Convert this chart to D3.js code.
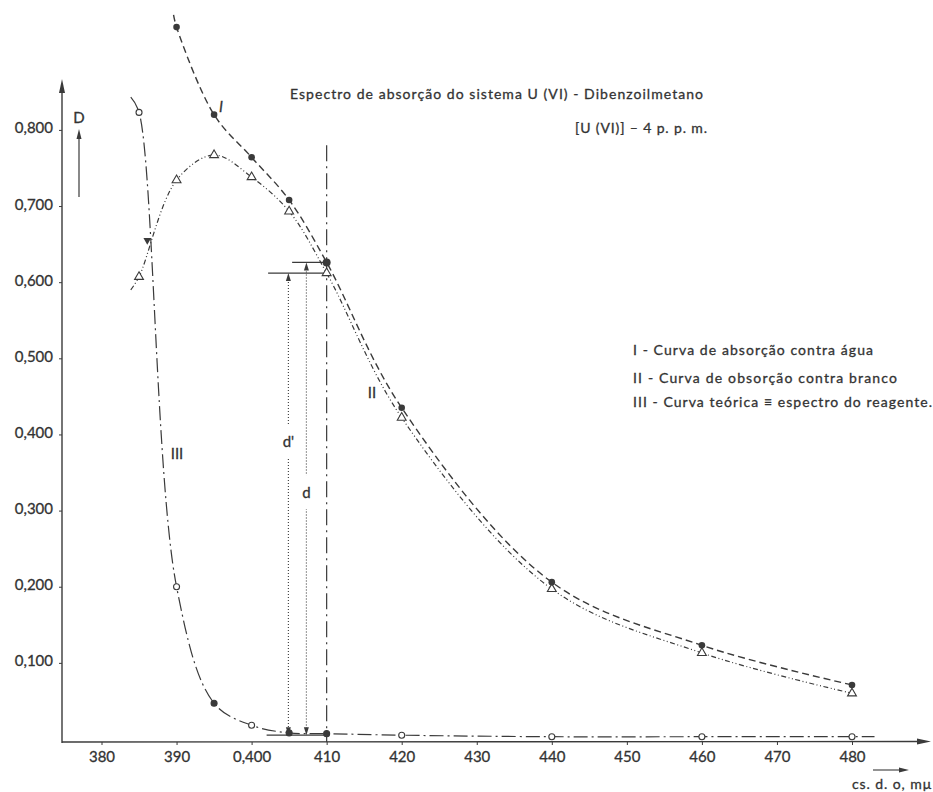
<!DOCTYPE html>
<html>
<head>
<meta charset="utf-8">
<script src="https://cdn.jsdelivr.net/npm/d3@7"></script>
<style>
  html, body { margin: 0; padding: 0; background: #ffffff; }
  svg { display: block; }
  text { font-family: Lato, "Noto Sans", sans-serif; fill: #333333; stroke: #333333; stroke-width: 0.3px; }
</style>
</head>
<body>
<svg id="chart" width="933" height="792"></svg>
<script>
// ---- Data: absorbance D versus wavelength (mµ) ----
// I - absorption against water
const curveIWavelengths = [390, 395, 400, 405, 410, 420, 440, 460, 480];
const curveIValues      = [0.935, 0.820, 0.764, 0.708, 0.626, 0.435, 0.206, 0.123, 0.071];
// II - absorption against the blank
const curveIIWavelengths = [385, 390, 395, 400, 405, 410, 420, 440, 460, 480];
const curveIIValues      = [0.607, 0.734, 0.767, 0.738, 0.693, 0.612, 0.422, 0.197, 0.113, 0.060];
// III - theoretical curve = reagent spectrum
const curveIIIWavelengths = [385, 390, 395, 400, 405, 410, 420, 440, 460, 480];
const curveIIIValues      = [0.823, 0.200, 0.047, 0.018, 0.008, 0.007, 0.005, 0.003, 0.003, 0.003];
const curveIIIFilled      = [395, 405, 410];

// where each hand-drawn curve begins / ends beyond its measured points
const curveILeadIn   = [389.6, 0.951];
const curveIILeadIn  = [383.9, 0.590];
const curveIIILeadIn = [383.9, 0.843];
const curveIIITail   = [483.0, 0.003];

// intersection of curves II and III
const crossingII_III = [386.1, 0.655];

// construction at the maximum: d and d'
const lambdaMax      = 410;
const lambdaMaxTop   = 0.78;
const dPrimeLambda   = 404.9;   // d'  : curve II level
const dLambda        = 407.3;   // d   : curve I level
const levelStartII   = 402.2;
const levelStartI    = 405.4;
const baseLevel      = 0.005;
const baseStart      = 402.0;

// axis ticks
const xTickValues = [380, 390, 400, 410, 420, 430, 440, 450, 460, 470, 480];
const xTickLabels = ["380", "390", "0,400", "410", "420", "430", "440", "450", "460", "470", "480"];
const yTickValues = [0.1, 0.2, 0.3, 0.4, 0.5, 0.6, 0.7, 0.8];
const yTickLabels = ["0,100", "0,200", "0,300", "0,400", "0,500", "0,600", "0,700", "0,800"];

// ---- Drawing ----
const ink = "#3a3a3a";
const svg = d3.select("#chart");
const x = d3.scaleLinear().domain([380, 480]).range([101.5, 852]);
const y = d3.scaleLinear().domain([0, 0.8]).range([739, 129.9]);
const font = 'Lato, "Noto Sans", sans-serif';

// axes
const axisX = d3.axisBottom(x)
  .tickValues(xTickValues)
  .tickFormat((d, i) => xTickLabels[i])
  .tickSize(3).tickPadding(6);
svg.append("g").attr("transform", "translate(0,742)").call(axisX)
  .call(g => g.select(".domain").remove())
  .call(g => g.selectAll("line").attr("stroke", ink))
  .call(g => g.selectAll("text").attr("font-size", 15).attr("font-family", font).attr("fill", "#333"));

const axisY = d3.axisLeft(y)
  .tickValues(yTickValues)
  .tickFormat((d, i) => yTickLabels[i])
  .tickSize(3).tickPadding(6);
svg.append("g").attr("transform", "translate(62,0)").call(axisY)
  .call(g => g.select(".domain").remove())
  .call(g => g.selectAll("line").attr("stroke", ink))
  .call(g => g.selectAll("text").attr("font-size", 15).attr("font-family", font).attr("fill", "#333").attr("dy", "0.2em"));

// axis lines with arrows
svg.append("line").attr("x1", 62).attr("y1", 742).attr("x2", 922).attr("y2", 741.5)
  .attr("stroke", ink).attr("stroke-width", 1.4);
svg.append("path").attr("d", "M931,741.5 L917,738.5 L917,744.5 Z").attr("fill", ink);
svg.append("line").attr("x1", 62).attr("y1", 743).attr("x2", 62).attr("y2", 88)
  .attr("stroke", ink).attr("stroke-width", 1.4);
svg.append("path").attr("d", "M62,79 L59,93 L65,93 Z").attr("fill", ink);

// D label with arrow
svg.append("text").attr("x", 79).attr("y", 123).attr("text-anchor", "middle")
  .attr("font-size", 15).text("D");
svg.append("line").attr("x1", 79).attr("y1", 197).attr("x2", 79).attr("y2", 136)
  .attr("stroke", ink).attr("stroke-width", 1.2);
svg.append("path").attr("d", "M79,129 L76.5,139 L81.5,139 Z").attr("fill", ink);

// x-axis unit label with arrow
svg.append("line").attr("x1", 873).attr("y1", 770).attr("x2", 902).attr("y2", 770)
  .attr("stroke", ink).attr("stroke-width", 1.1);
svg.append("path").attr("d", "M909,770 L899,767.5 L899,772.5 Z").attr("fill", ink);
svg.append("text").attr("x", 852).attr("y", 789).attr("font-size", 14)
  .attr("textLength", 79).attr("lengthAdjust", "spacing").text("cs. d. o, mμ");

// titles
svg.append("text").attr("x", 290).attr("y", 99).attr("font-size", 14)
  .attr("textLength", 413).attr("lengthAdjust", "spacing")
  .text("Espectro de absorção do sistema U (VI) - Dibenzoilmetano");
svg.append("text").attr("x", 575).attr("y", 133).attr("font-size", 14)
  .attr("textLength", 132).attr("lengthAdjust", "spacing")
  .text("[U (VI)] – 4 p. p. m.");

// legend
const legendLines = [
  { text: "I - Curva de absorção contra água", y: 355, w: 240 },
  { text: "II - Curva de obsorção contra branco", y: 383, w: 264 },
  { text: "III - Curva teórica ≡ espectro do reagente.", y: 407, w: 299 }
];
svg.append("g").selectAll("text").data(legendLines).join("text")
  .attr("x", 633).attr("y", d => d.y).attr("font-size", 14)
  .attr("textLength", d => d.w).attr("lengthAdjust", "spacing")
  .text(d => d.text);

// curves
const line = d3.line().x(d => x(d[0])).y(d => y(d[1])).curve(d3.curveCatmullRom.alpha(0.5));
const ptsI   = [curveILeadIn].concat(d3.zip(curveIWavelengths, curveIValues));
const ptsII  = [curveIILeadIn].concat(d3.zip(curveIIWavelengths, curveIIValues));
const ptsIII = [curveIIILeadIn].concat(d3.zip(curveIIIWavelengths, curveIIIValues), [curveIIITail]);

svg.append("path").attr("d", line(ptsIII)).attr("fill", "none")
  .attr("stroke", ink).attr("stroke-width", 1.2).attr("stroke-dasharray", "14,4,2,4");
svg.append("path").attr("d", line(ptsII)).attr("fill", "none")
  .attr("stroke", ink).attr("stroke-width", 1.2).attr("stroke-dasharray", "5,2.5,1,2.5,1,2.5");
svg.append("path").attr("d", line(ptsI)).attr("fill", "none")
  .attr("stroke", ink).attr("stroke-width", 1.4).attr("stroke-dasharray", "7,4");

// vertical dash-dot line at the maximum
svg.append("line").attr("x1", x(lambdaMax)).attr("x2", x(lambdaMax))
  .attr("y1", y(lambdaMaxTop)).attr("y2", y(0) + 3)
  .attr("stroke", ink).attr("stroke-width", 1.2).attr("stroke-dasharray", "16,5,2,5");

// horizontal reference levels
const levelI  = curveIValues[curveIWavelengths.indexOf(lambdaMax)];
const levelII = curveIIValues[curveIIWavelengths.indexOf(lambdaMax)];
[[levelStartI, levelI], [levelStartII, levelII], [baseStart, baseLevel]].forEach(([x0, lv]) => {
  svg.append("line").attr("x1", x(x0)).attr("x2", x(lambdaMax))
    .attr("y1", y(lv)).attr("y2", y(lv)).attr("stroke", ink).attr("stroke-width", 1.3);
});

// d and d' dotted arrows
const arrows = [
  { lam: dPrimeLambda, top: levelII, label: "d'", labelD: 0.390 },
  { lam: dLambda,      top: levelI,  label: "d",  labelD: 0.323 }
];
arrows.forEach(a => {
  const xa = x(a.lam), yt = y(a.top), yb = y(baseLevel);
  svg.append("line").attr("x1", xa).attr("x2", xa).attr("y1", yt + 6).attr("y2", yb - 6)
    .attr("stroke", ink).attr("stroke-width", 1.1).attr("stroke-dasharray", "1,2");
  svg.append("path").attr("d", `M${xa},${yt} L${xa - 2.5},${yt + 8} L${xa + 2.5},${yt + 8} Z`).attr("fill", ink);
  svg.append("path").attr("d", `M${xa},${yb} L${xa - 2.5},${yb - 8} L${xa + 2.5},${yb - 8} Z`).attr("fill", ink);
  const ly = y(a.labelD);
  svg.append("rect").attr("x", xa - 8).attr("y", ly - 18).attr("width", 16).attr("height", 34).attr("fill", "#ffffff");
  svg.append("text").attr("x", xa).attr("y", ly + 5).attr("text-anchor", "middle")
    .attr("font-size", 15).text(a.label);
});

// markers: curve III
svg.append("g").selectAll("circle").data(d3.zip(curveIIIWavelengths, curveIIIValues)).join("circle")
  .attr("cx", d => x(d[0])).attr("cy", d => y(d[1])).attr("r", 3)
  .attr("fill", d => curveIIIFilled.includes(d[0]) ? ink : "#ffffff")
  .attr("stroke", ink).attr("stroke-width", 1.1);

// markers: curve II (open triangles)
const tri = d3.symbol().type(d3.symbolTriangle).size(34);
svg.append("g").selectAll("path").data(d3.zip(curveIIWavelengths, curveIIValues)).join("path")
  .attr("d", tri).attr("transform", d => `translate(${x(d[0])},${y(d[1])})`)
  .attr("fill", "#ffffff").attr("stroke", ink).attr("stroke-width", 1.1);

// markers: curve I (filled circles)
svg.append("g").selectAll("circle").data(d3.zip(curveIWavelengths, curveIValues)).join("circle")
  .attr("cx", d => x(d[0])).attr("cy", d => y(d[1]))
  .attr("r", d => d[0] === lambdaMax ? 4 : 3.3).attr("fill", ink);

// crossing of II and III
svg.append("path").attr("d", d3.symbol().type(d3.symbolTriangle).size(26))
  .attr("transform", `translate(${x(crossingII_III[0])},${y(crossingII_III[1])}) rotate(180)`)
  .attr("fill", ink);

// curve labels
svg.append("text").attr("x", 221).attr("y", 112).attr("font-size", 15)
  .attr("font-style", "italic").attr("text-anchor", "middle").text("I");
svg.append("text").attr("x", 372).attr("y", 398).attr("font-size", 15)
  .attr("text-anchor", "middle").text("II");
svg.append("text").attr("x", 177).attr("y", 459).attr("font-size", 15)
  .attr("text-anchor", "middle").text("III");
</script>
</body>
</html>
